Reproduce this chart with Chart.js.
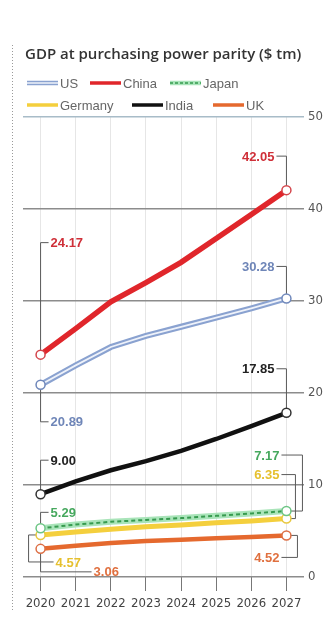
<!DOCTYPE html>
<html>
<head>
<meta charset="utf-8">
<script src="https://cdn.jsdelivr.net/npm/chart.js@4/dist/chart.umd.min.js"></script>
<style>
html, body { margin: 0; padding: 0; background: #fff; }
#wrap { width: 325px; height: 618px; }
</style>
</head>
<body>
<div id="wrap"><canvas id="gdpChart" width="325" height="618"></canvas></div>
<script>
// Values ($ trillion, PPP)
var years = ['2020', '2021', '2022', '2023', '2024', '2025', '2026', '2027'];
var us      = [20.89, 23.0, 25.0, 26.2, 27.2, 28.2, 29.2, 30.28];
var china   = [24.17, 27.0, 29.9, 32.0, 34.2, 36.8, 39.4, 42.05];
var japan   = [5.29, 5.7, 6.0, 6.2, 6.4, 6.65, 6.9, 7.17];
var germany = [4.57, 4.9, 5.2, 5.45, 5.65, 5.9, 6.1, 6.35];
var india   = [9.00, 10.4, 11.6, 12.6, 13.7, 15.0, 16.4, 17.85];
var uk      = [3.06, 3.4, 3.7, 3.9, 4.05, 4.2, 4.35, 4.52];
var yTicks  = [0, 10, 20, 30, 40, 50];

var titleText = 'GDP at purchasing power parity ($ tm)';
var seriesNames = ['US', 'China', 'Japan', 'Germany', 'India', 'UK'];
var seriesData = [us, china, japan, germany, india, uk];

var narrow = '"Liberation Sans Narrow", "DejaVu Sans Condensed", "Liberation Sans", sans-serif';
var sans = '"Liberation Sans", Arial, sans-serif';

var colors = {
    US: '#8aa2d0', China: '#e0262b', Japan: '#a9e4b9', Germany: '#f4cf3d', India: '#111111', UK: '#e5692e'
};
var labelColors = {
    US: '#6f86b8', China: '#cf2f38', Japan: '#46a85e', Germany: '#e6c02e', India: '#222222', UK: '#e0703f'
};
var usInner = '#eef2fa';
var japanDash = '#379a4f';

// where each legend entry sits (line start x, middle y)
var legendPos = {
    US: [27, 83], China: [90, 83], Japan: [170, 83],
    Germany: [27, 105], India: [132, 105], UK: [213, 105]
};

// value callouts: label offset from the point and the leader elbow
var callouts = [
    {series: 'China',   at: 'first', dy: -112, labelDx: 10, elbow: 0},
    {series: 'US',      at: 'first', dy: 37,   labelDx: 10, elbow: 0},
    {series: 'India',   at: 'first', dy: -34,  labelDx: 10, elbow: 0},
    {series: 'Japan',   at: 'first', dy: -16,  labelDx: 10, elbow: 0},
    {series: 'Germany', at: 'first', dy: 27,   labelDx: 15, elbow: -12},
    {series: 'UK',      at: 'first', dy: 23,   labelDx: 53, elbow: 0},
    {series: 'China',   at: 'last',  dy: -34,  labelDx: -12, elbow: 0},
    {series: 'US',      at: 'last',  dy: -32,  labelDx: -12, elbow: 0},
    {series: 'India',   at: 'last',  dy: -44,  labelDx: -12, elbow: 0},
    {series: 'Japan',   at: 'last',  dy: -56,  labelDx: -7,  elbow: 16},
    {series: 'Germany', at: 'last',  dy: -44,  labelDx: -7,  elbow: 9},
    {series: 'UK',      at: 'last',  dy: 22,   labelDx: -7,  elbow: 11}
];

function endRadius(ctx)
{
    return (ctx.dataIndex === 0 || ctx.dataIndex === years.length - 1) ? 4.5 : 0;
}

function lineSet(name, data, color, width, order, withPoints, pointColor)
{
    return {
        label: name,
        data: data,
        borderColor: color,
        borderWidth: width,
        tension: 0,
        order: order,
        pointRadius: withPoints ? endRadius : 0,
        pointBackgroundColor: '#ffffff',
        pointBorderColor: pointColor || color,
        pointBorderWidth: 1.5
    };
}

var usOverlay = lineSet('US', us, usInner, 1.8, 0, true, '#7088bb');
var japanOverlay = lineSet('Japan', japan, japanDash, 2, 4, true, '#6cc584');
japanOverlay.borderDash = [4, 3];

var datasets = [
    usOverlay,
    lineSet('US', us, colors.US, 6, 1, false),
    lineSet('China', china, colors.China, 5.5, 2, true, '#d4464c'),
    lineSet('India', india, colors.India, 4.5, 3, true, '#333333'),
    japanOverlay,
    lineSet('Japan', japan, colors.Japan, 6, 5, false),
    lineSet('Germany', germany, colors.Germany, 5, 6, true, '#e8c840'),
    lineSet('UK', uk, colors.UK, 4.5, 7, true, '#dd6f45')
];

function pointAt(chart, name, at)
{
    var data = seriesData[seriesNames.indexOf(name)];
    var idx = at === 'first' ? 0 : data.length - 1;
    return {
        x: chart.scales.x.getPixelForValue(idx),
        y: chart.scales.y.getPixelForValue(data[idx]),
        value: data[idx]
    };
}

var decorPlugin = {
    id: 'decor',
    beforeDatasetsDraw: function(chart) {
        var ctx = chart.ctx;
        ctx.save();
        ctx.strokeStyle = '#5a5a5a';
        ctx.lineWidth = 1;
        callouts.forEach(function(c) {
            var p = pointAt(chart, c.series, c.at);
            var ex = p.x + c.elbow;
            var ly = p.y + c.dy;
            var lx = p.x + c.labelDx + (c.at === 'first' ? -2 : 2);
            ctx.beginPath();
            ctx.moveTo(p.x, p.y);
            ctx.lineTo(ex, p.y);
            ctx.lineTo(ex, ly);
            ctx.lineTo(lx, ly);
            ctx.stroke();
        });
        ctx.restore();
    },
    afterDraw: function(chart) {
        var ctx = chart.ctx;
        ctx.save();

        // dotted rule on the left edge
        ctx.strokeStyle = '#9a9a9a';
        ctx.lineWidth = 1;
        ctx.setLineDash([1, 2]);
        ctx.beginPath();
        ctx.moveTo(12.5, 45);
        ctx.lineTo(12.5, 612);
        ctx.stroke();
        ctx.setLineDash([]);

        // title
        ctx.fillStyle = '#333333';
        ctx.font = '600 15px "Open Sans", ' + sans;
        ctx.textBaseline = 'middle';
        ctx.textAlign = 'left';
        ctx.fillText(titleText, 25, 55);

        // legend
        ctx.font = '13px ' + sans;
        seriesNames.forEach(function(name) {
            var pos = legendPos[name];
            var x = pos[0], y = pos[1];
            ctx.lineCap = 'butt';
            ctx.strokeStyle = colors[name];
            ctx.lineWidth = (name === 'US' || name === 'Japan') ? 4.5 : 3.5;
            ctx.beginPath();
            ctx.moveTo(x, y);
            ctx.lineTo(x + 31, y);
            ctx.stroke();
            if (name === 'US' || name === 'Japan') {
                ctx.strokeStyle = name === 'US' ? usInner : japanDash;
                ctx.lineWidth = 1.5;
                if (name === 'Japan') ctx.setLineDash([3, 2]);
                ctx.beginPath();
                ctx.moveTo(x, y);
                ctx.lineTo(x + 31, y);
                ctx.stroke();
                ctx.setLineDash([]);
            }
            ctx.fillStyle = '#666666';
            ctx.fillText(name, x + 33, y + 1);
        });

        // callout values
        ctx.font = 'bold 13px ' + sans;
        callouts.forEach(function(c) {
            var p = pointAt(chart, c.series, c.at);
            ctx.fillStyle = labelColors[c.series];
            ctx.textAlign = c.at === 'first' ? 'left' : 'right';
            ctx.fillText(p.value.toFixed(2), p.x + c.labelDx, p.y + c.dy + 1);
        });
        ctx.restore();
    }
};

var gdpChart = new Chart(document.getElementById('gdpChart'), {
    type: 'line',
    data: { labels: years, datasets: datasets },
    options: {
        responsive: false,
        animation: false,
        devicePixelRatio: 1,
        layout: { padding: { top: 117, left: 23, right: 0, bottom: 0 } },
        plugins: {
            legend: { display: false },
            title: { display: false },
            tooltip: { enabled: false }
        },
        scales: {
            x: {
                offset: true,
                grid: { color: '#e6e6e6', lineWidth: 1, tickLength: 14, tickColor: '#777777', offset: false },
                border: { display: false },
                ticks: { padding: 5, color: '#444444', font: { family: narrow, size: 13 }, maxRotation: 0, autoSkip: false },
                afterFit: function(scale) { scale.height = 41; }
            },
            y: {
                position: 'right',
                min: 0,
                max: 50,
                afterBuildTicks: function(scale) {
                    scale.ticks = yTicks.map(function(v) { return {value: v}; });
                },
                grid: {
                    color: function(ctx) { return ctx.tick && ctx.tick.value === 50 ? '#a8bcc8' : '#8c8c8c'; },
                    lineWidth: 1.5,
                    drawTicks: false
                },
                border: { display: false },
                ticks: { padding: 4, color: '#555555', font: { family: narrow, size: 13 } },
                afterFit: function(scale) { scale.width = 21; }
            }
        }
    },
    plugins: [decorPlugin]
});
</script>
</body>
</html>
